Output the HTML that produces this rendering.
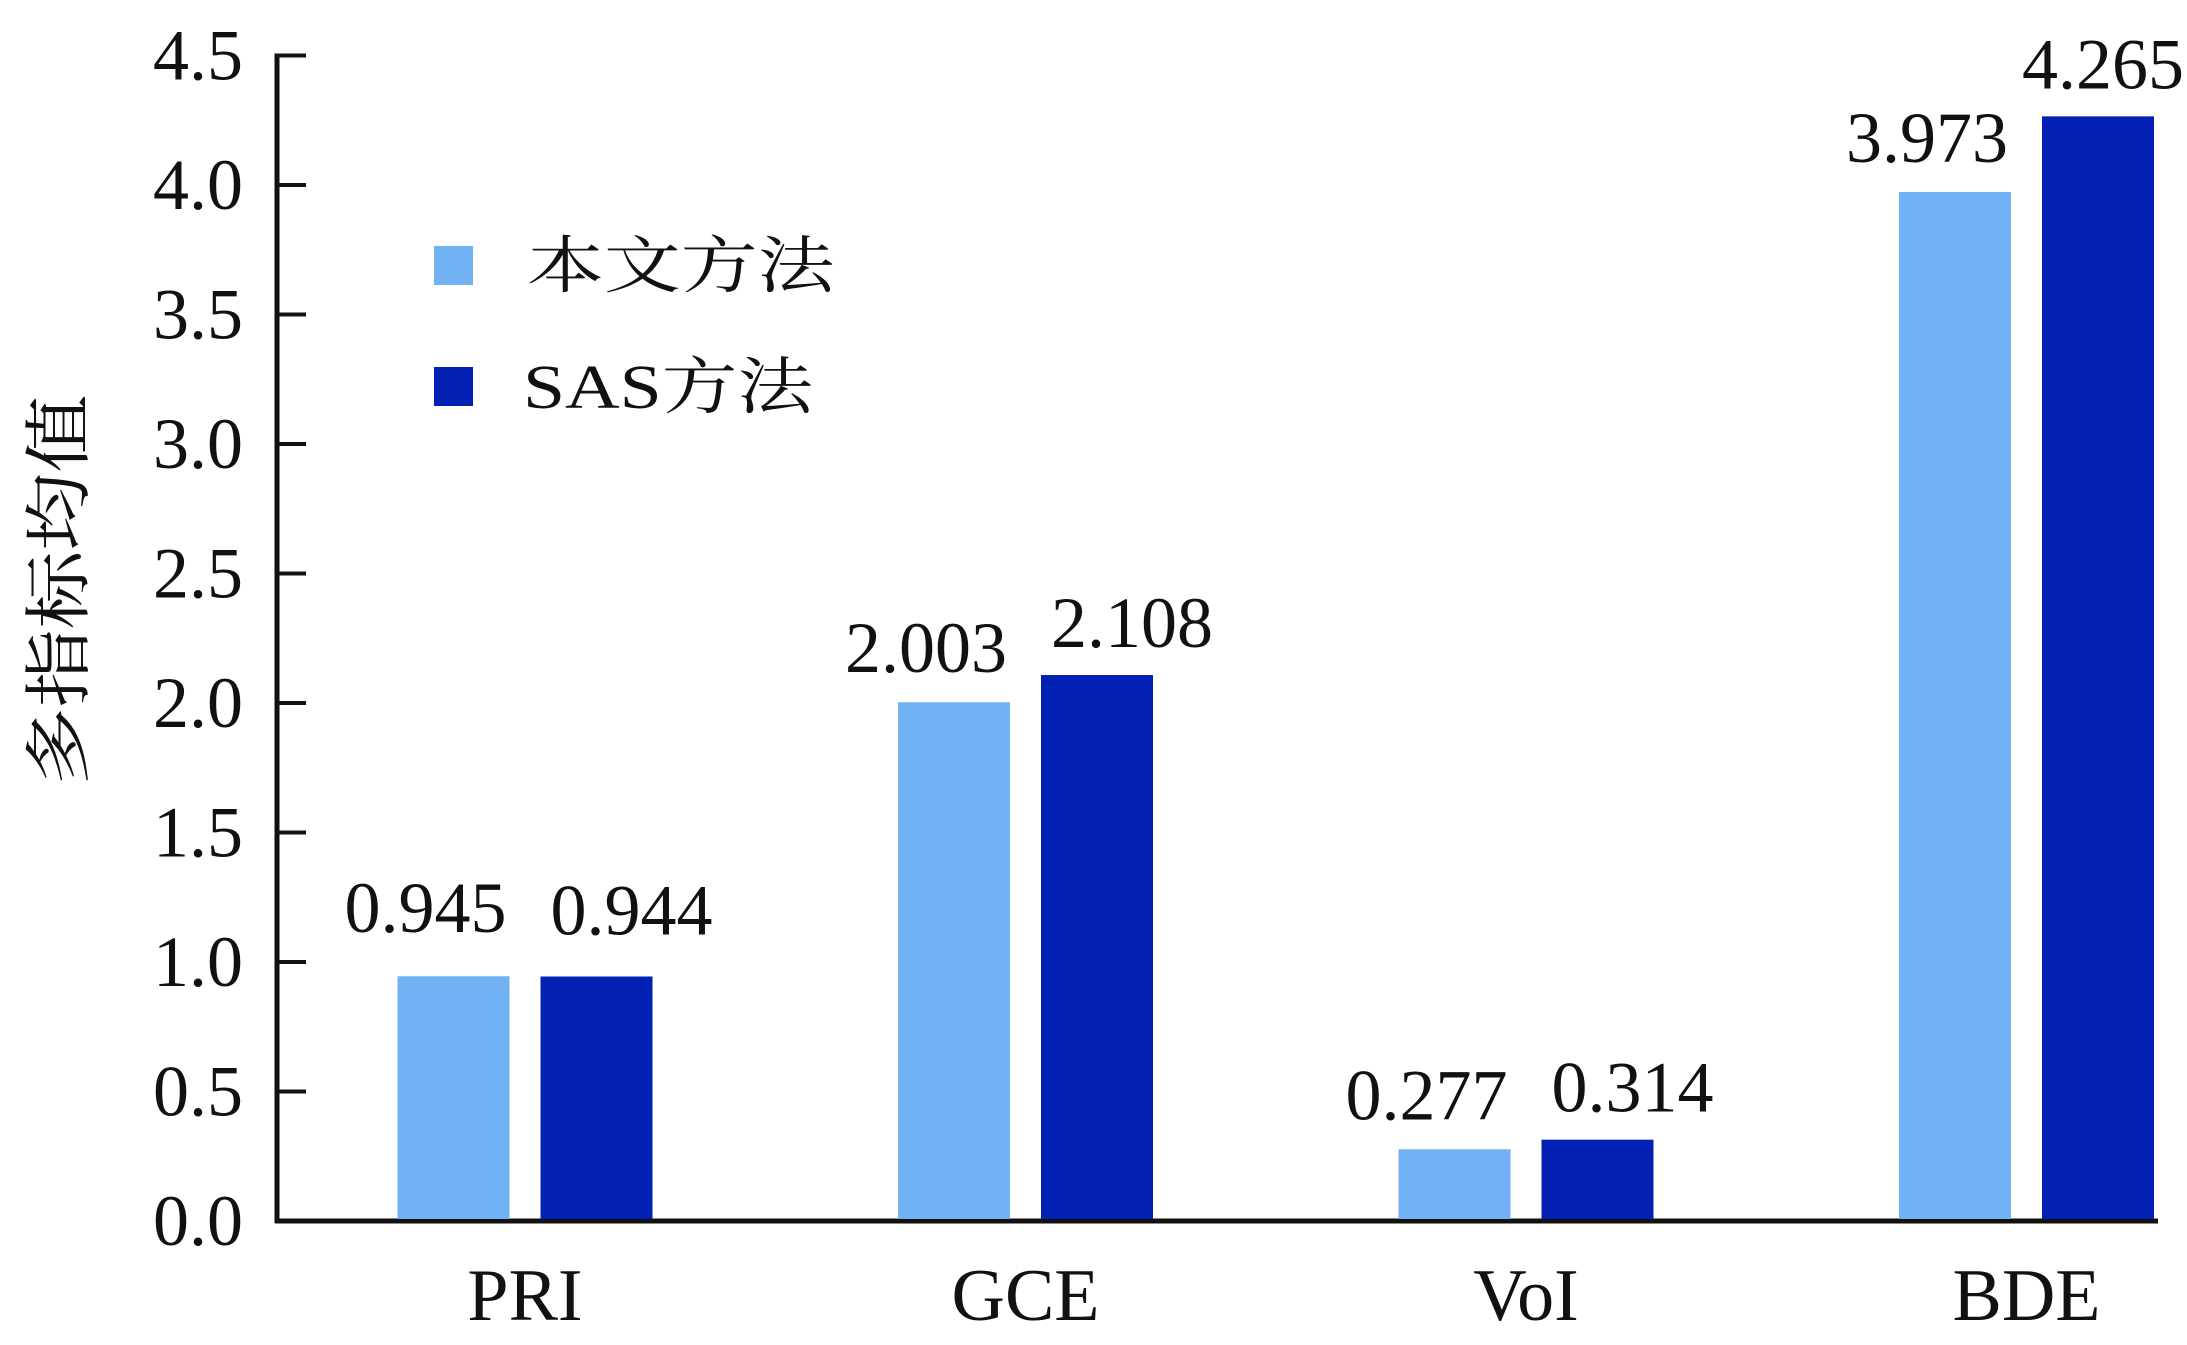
<!DOCTYPE html>
<html><head><meta charset="utf-8"><style>
html,body{margin:0;padding:0;background:#fff;}
svg{display:block;}
text{font-family:"Liberation Serif","Noto Serif CJK SC",serif;fill:#111;}
</style></head><body>
<svg id="chart" width="2187" height="1345" viewBox="0 0 2187 1345" xmlns="http://www.w3.org/2000/svg">
<g id="axes"></g>
<g id="bars"></g>
<g id="labels"></g>
<g transform="translate(60,590) rotate(-90) scale(1.15,1)">
<text x="0" y="0" font-size="68" text-anchor="middle" dominant-baseline="central" font-family="'Noto Sans CJK SC',sans-serif">多指标均值</text>
</g>
<g>
<rect x="434" y="246" width="39" height="39" fill="#71b2f4"/>
<text transform="translate(527,287) scale(1.24,1)" font-size="62" font-family="'Noto Serif CJK SC',serif">本文方法</text>
<rect x="434" y="367" width="39" height="39" fill="#0220b3"/>
<text transform="translate(523,408) scale(1.22,1)" font-size="62" font-family="'Liberation Serif','Noto Serif CJK SC',serif">SAS方法</text>
</g>
</svg>
<script>
const categories = ["PRI","GCE","VoI","BDE"];
const oursValues = [0.945, 2.003, 0.277, 3.973];
const sasValues = [0.944, 2.108, 0.314, 4.265];
const oursLabels = ["0.945","2.003","0.277","3.973"];
const sasLabels = ["0.944","2.108","0.314","4.265"];
const yTicks = [0,0.5,1,1.5,2,2.5,3,3.5,4,4.5];
const yTickLabels = ["0.0","0.5","1.0","1.5","2.0","2.5","3.0","3.5","4.0","4.5"];

const NS="http://www.w3.org/2000/svg";
const baseY=1221, unit=259, axisX=277, axisEnd=2158;
const x0=525, step=500.5, barW=112, gap=31;
function yScale(v){return baseY - v*unit;}
function xCenter(i){return x0 + i*step;}
function mk(tag, attrs, parent){const e=document.createElementNS(NS,tag);for(const k in attrs)e.setAttribute(k,attrs[k]);parent.appendChild(e);return e;}

const axes=document.getElementById('axes');
let yl=mk('line',{x1:axisX,y1:yScale(4.5)-2,x2:axisX,y2:baseY+2,stroke:'#111','stroke-width':5},axes);


let xl=mk('line',{x1:axisX-2,y1:baseY,x2:axisEnd,y2:baseY,stroke:'#111','stroke-width':5},axes);


yTicks.forEach((t,i)=>{
  const y=yScale(t);
  if(t>0){const tk=mk('line',{x1:axisX,y1:y,x2:306,y2:y,stroke:'#111','stroke-width':4},axes);
  
  }
  const tx=mk('text',{x:243,y:y+24,'font-size':72,'text-anchor':'end'},axes);
  tx.textContent=yTickLabels[i];
  
  
});
categories.forEach((c,i)=>{
  const tx=mk('text',{x:xCenter(i),y:1320,'font-size':74,'text-anchor':'middle'},axes);
  tx.textContent=c;
  
  
});

const bars=document.getElementById('bars'), labels=document.getElementById('labels');
categories.forEach((c,i)=>{
  const lx=xCenter(i)-gap/2-barW, dx=xCenter(i)+gap/2;
  const b1=mk('rect',{x:lx,y:yScale(oursValues[i]),width:barW,height:baseY-2-yScale(oursValues[i]),fill:'#71b2f4'},bars);
  
  
  const b2=mk('rect',{x:dx,y:yScale(sasValues[i]),width:barW,height:baseY-2-yScale(sasValues[i]),fill:'#0220b3'},bars);
  
  
  const off = i===0 ? 44 : 30;
  const t1=mk('text',{x:lx+barW/2-28,y:yScale(oursValues[i])-off,'font-size':72,'text-anchor':'middle'},labels);
  t1.textContent=oursLabels[i];
  
  
  const cx=Math.min(dx+barW/2+35, 2187-84);
  const t2=mk('text',{x:cx,y:yScale(sasValues[i])-off+2,'font-size':72,'text-anchor':'middle'},labels);
  t2.textContent=sasLabels[i];
  
  
});
</script>
</body></html>
